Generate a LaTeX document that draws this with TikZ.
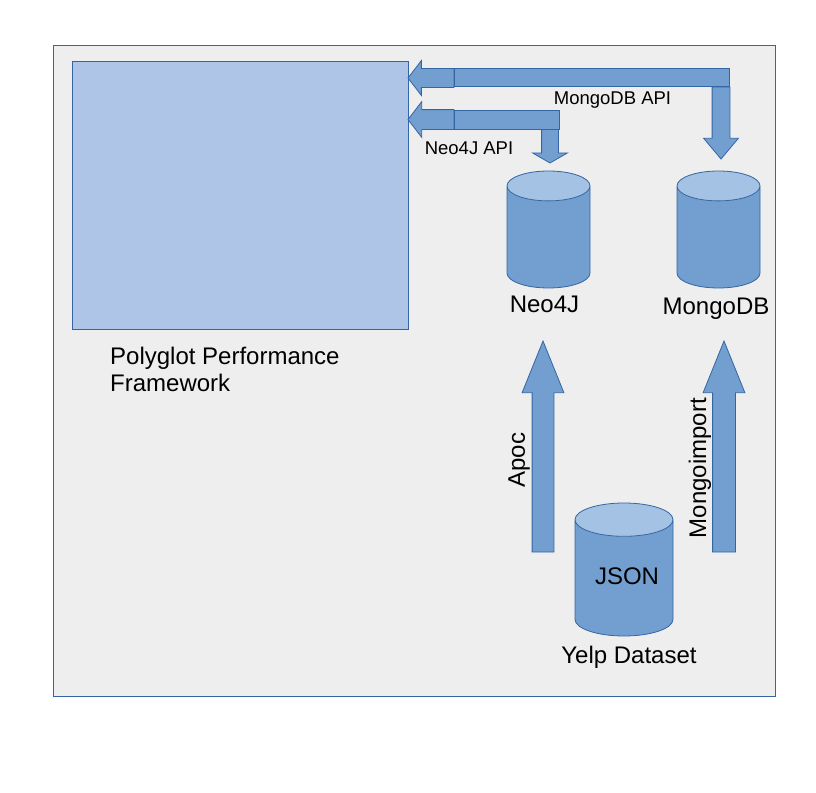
\documentclass[tikz,border=0pt]{standalone}
\usepackage{fontspec}
\setmainfont{Liberation Sans}
\usetikzlibrary{shapes.geometric,shapes.arrows}
\definecolor{edgeblue}{HTML}{3465A4}
\definecolor{bodyblue}{HTML}{729FCF}
\definecolor{capblue}{HTML}{A4C2E3}
\definecolor{boxblue}{HTML}{AEC5E8}
\definecolor{panelgrey}{HTML}{EEEEEE}
\tikzset{
  panel/.style={rectangle,draw=edgeblue,fill=panelgrey,line width=0.8pt,inner sep=0pt,outer sep=0pt,anchor=north west},
  framework/.style={rectangle,draw=edgeblue,fill=boxblue,line width=0.8pt,inner sep=0pt,outer sep=0pt,anchor=north west},
  database/.style={cylinder,shape border rotate=90,draw=edgeblue,line width=0.8pt,cylinder uses custom fill,
    cylinder body fill=bodyblue,cylinder end fill=capblue,outer sep=0pt,anchor=shape center},
  blockarrow/.style={single arrow,draw=edgeblue,fill=bodyblue,line width=0.8pt,inner xsep=0pt,outer sep=0pt,anchor=tip},
  blockbar/.style={rectangle,draw=edgeblue,fill=bodyblue,line width=0.8pt,inner sep=0pt,outer sep=0pt,anchor=north west},
  biglabel/.style={font=\fontsize{24}{27}\selectfont,inner sep=0pt},
  apilabel/.style={font=\fontsize{18.5}{22}\selectfont,inner sep=0pt},
}
\begin{document}
\begin{tikzpicture}[x=1pt,y=-1pt]
  \useasboundingbox (0,0) rectangle (816,792);
  \node[panel,minimum width=722pt,minimum height=651pt] (frame) at (53.5,45.5) {};
  \node[framework,minimum width=336pt,minimum height=268pt] (polyglot) at (72.5,61.5) {};

  % databases
  \node[database,inner sep=41.5pt,aspect=0.36,minimum height=117pt] (neo) at (548.5,229.5) {};
  \node[database,inner sep=41.5pt,aspect=0.36,minimum height=117pt] (mongo) at (718.5,229.5) {};
  \node[database,inner sep=49pt,aspect=0.34,minimum height=133pt] (yelp) at (624,569.5) {};

  % import arrows
  \node[blockarrow,rotate=90,inner ysep=10.5pt,minimum height=211pt,single arrow head extend=10pt,single arrow tip angle=44] (apoc) at (543,341) {};
  \node[blockarrow,rotate=90,inner ysep=11pt,minimum height=211pt,single arrow head extend=9.5pt,single arrow tip angle=44] (mongoimport) at (724,341) {};

  % api arrows
  \node[blockarrow,rotate=-90,inner ysep=8pt,minimum height=34pt,single arrow head extend=9pt,single arrow tip angle=120] (neodown) at (550,163) {};
  \node[blockarrow,rotate=-90,inner ysep=8.5pt,minimum height=72pt,single arrow head extend=8.5pt,single arrow tip angle=80] (mongodown) at (721,159) {};
  \node[blockarrow,rotate=180,inner ysep=9pt,minimum height=46pt,single arrow head extend=8pt,single arrow tip angle=105] (mongoleft) at (408,78) {};
  \node[blockarrow,rotate=180,inner ysep=9.5pt,minimum height=46pt,single arrow head extend=8pt,single arrow tip angle=105] (neoleft) at (408,119.5) {};
  \node[blockbar,minimum width=275pt,minimum height=18pt] (mongobar) at (454.5,68.5) {};
  \node[blockbar,minimum width=105pt,minimum height=19pt] (neobar) at (454.5,110) {};

  % labels
  \node[biglabel,align=left,anchor=north west] (polyglotlabel) at (110,347) {Polyglot Performance\\Framework};
  \node[apilabel,anchor=center] (mongoapi) at (612.5,100) {MongoDB API};
  \node[apilabel,anchor=center] (neoapi) at (469,148) {Neo4J API};
  \node[biglabel] (neolabel) at (544.5,304) {Neo4J};
  \node[biglabel] (mongolabel) at (716,309) {MongoDB};
  \node[biglabel] (jsonlabel) at (627,576) {JSON};
  \node[biglabel] (yelplabel) at (629,657) {Yelp Dataset};
  \node[biglabel,rotate=90] (apoclabel) at (519,460) {Apoc};
  \node[biglabel,rotate=90] (importlabel) at (700,468) {Mongoimport};
\end{tikzpicture}
\end{document}
